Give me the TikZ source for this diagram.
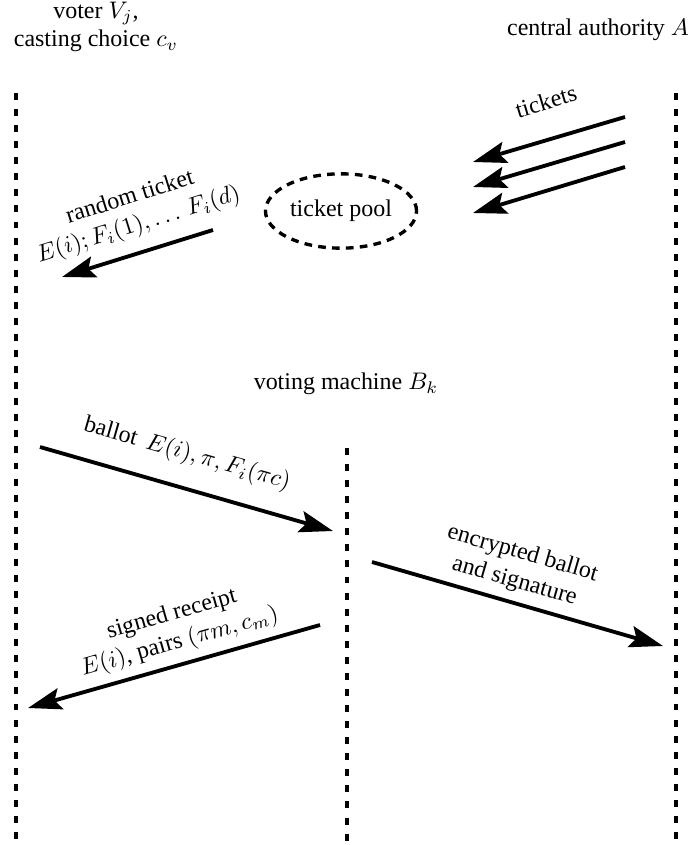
\documentclass[tikz,border=0pt]{standalone}
\usepackage{fontspec}
\setmainfont{Liberation Serif}
\usetikzlibrary{arrows.meta,shapes.geometric}
\begin{document}
\begin{tikzpicture}[x=0.417pt,y=-0.417pt,
  lifeline/.style={line width=1.6pt,dash pattern=on 2.9pt off 3.8pt},
  msg/.style={line width=1.6pt,-{Stealth[length=14pt,width=9pt,inset=2.5pt]}},
  lbl/.style={sloped,align=center},
  title/.style={align=center}]
\useasboundingbox (0,0) rectangle (692,845);
% lifelines
\coordinate (Ltop) at (16,93);
\coordinate (Lbot) at (16,845);
\coordinate (Rtop) at (676,93);
\coordinate (Rbot) at (676,845);
\coordinate (Mtop) at (347,448);
\coordinate (Mbot) at (347,845);
\draw[lifeline] (Ltop) -- (Lbot);
\draw[lifeline] (Rtop) -- (Rbot);
\draw[lifeline] (Mtop) -- (Mbot);
% titles
\node[title] (voter) at (96,27) {voter $V_j$,\\casting choice $c_v$};
\node[title] (auth) at (598,30) {central authority $A$};
\node[title] (machine) at (346,384) {voting machine $B_k$};
% ticket pool
\node[ellipse,draw,line width=1.4pt,dash pattern=on 3.2pt off 2.6pt,
      minimum width=63pt,minimum height=31pt,inner sep=0pt] (pool) at (341,211) {ticket pool};
% tickets
\coordinate (t1s) at (625,117); \coordinate (t1e) at (473,162);
\coordinate (t2s) at (625,142); \coordinate (t2e) at (473,187);
\coordinate (t3s) at (625,167); \coordinate (t3e) at (473,213);
\draw[msg] (t1s) -- node[lbl,above=8pt,pos=0.45] (tlbl) {tickets} (t1e);
\draw[msg] (t2s) -- (t2e);
\draw[msg] (t3s) -- (t3e);
% random ticket
\coordinate (rs) at (213,230); \coordinate (re) at (62,277);
\draw[msg] (rs) -- node[lbl,above=2pt,pos=0.44] (rlbl) {random ticket\\$E(i); F_i(1), \ldots\, F_i(d)$} (re);
% ballot
\coordinate (bs) at (40,447); \coordinate (be) at (333,531);
\draw[msg] (bs) -- node[lbl,above=5pt,pos=0.47] (blbl) {ballot\, $E(i), \pi, F_i(\pi c)$} (be);
% encrypted ballot
\coordinate (es) at (372,562); \coordinate (ee) at (663,646);
\draw[msg] (es) -- node[lbl,above=0pt,pos=0.47] (elbl) {encrypted ballot\\and signature} (ee);
% signed receipt
\coordinate (ss) at (320,625); \coordinate (se) at (28,708);
\draw[msg] (ss) -- node[lbl,above=0pt,pos=0.46] (slbl) {signed receipt\\$E(i)$, pairs $(\pi m, c_m)$} (se);
\end{tikzpicture}
\end{document}
